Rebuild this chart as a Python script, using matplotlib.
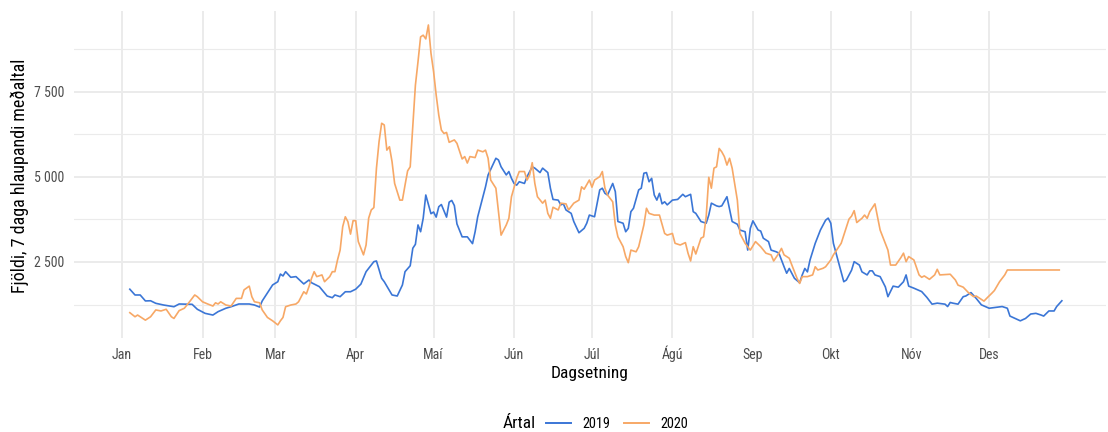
import matplotlib
matplotlib.use("Agg")
import matplotlib.pyplot as plt
from matplotlib import font_manager
from matplotlib.lines import Line2D

# leturgerð: helst mjó (condensed) eins og í upprunalegu myndinni
installed = {f.name for f in font_manager.fontManager.ttflist}
family = next(f for f in ["Roboto Condensed", "Liberation Sans Narrow", "Roboto", "DejaVu Sans"] if f in installed)
plt.rcParams["font.family"] = [family, "DejaVu Sans"]

# dagur ársins og 7 daga hlaupandi meðaltal
days_2019 = [4, 6, 8, 10, 12, 14, 17, 21, 23, 28, 30, 33, 36, 38, 41, 43, 46, 50, 52, 54,
             55, 59, 61, 62, 63, 64, 66, 68, 71, 73, 74, 77, 80, 82, 83, 85, 87, 89, 91, 93,
             95, 98, 99, 101, 102, 105, 107, 109, 110, 112, 113, 114, 115, 116, 117, 118, 120, 121, 122, 123,
             124, 126, 127, 128, 129, 130, 132, 134, 136, 137, 138, 140, 141, 142, 145, 146, 147, 149, 150, 151,
             152, 153, 154, 156, 157, 159, 160, 162, 163, 165, 166, 167, 169, 170, 171, 172, 174, 175, 177, 179,
             180, 181, 183, 184, 185, 186, 187, 188, 190, 191, 192, 194, 195, 196, 197, 198, 200, 201, 202, 203,
             204, 205, 206, 207, 208, 209, 210, 211, 213, 215, 217, 218, 220, 221, 222, 224, 226, 227, 228, 230,
             231, 232, 234, 236, 238, 239, 241, 242, 243, 244, 246, 247, 248, 250, 251, 253, 254, 256, 257, 258,
             260, 262, 263, 264, 265, 266, 268, 270, 272, 273, 274, 275, 277, 279, 280, 282, 283, 285, 286, 288,
             289, 290, 291, 293, 295, 296, 298, 300, 302, 303, 304, 306, 309, 311, 313, 315, 318, 319, 320, 321,
             323, 325, 326, 328, 330, 332, 335, 338, 340, 342, 343, 345, 347, 349, 351, 353, 355, 356, 358, 360,
             361, 363]
fjoldi_2019 = [1700, 1530, 1530, 1355, 1360, 1285, 1235, 1185, 1265, 1255, 1110, 990, 940, 1040, 1140, 1185, 1265, 1265, 1235, 1175,
               1355, 1825, 1920, 2145, 2090, 2215, 2050, 2070, 1855, 1970, 1890, 1775, 1500, 1450, 1530, 1480, 1625, 1625, 1700, 1850,
               2215, 2510, 2530, 2020, 1920, 1530, 1500, 1825, 2215, 2390, 2905, 3020, 3590, 3390, 3785, 4470, 3920, 3970, 3820, 4125,
               4190, 3820, 4260, 4310, 4160, 3620, 3240, 3240, 3040, 3390, 3830, 4420, 4710, 5060, 5550, 5500, 5300, 5060, 5160, 4960,
               4810, 4760, 4860, 4810, 5010, 5300, 5260, 5130, 5260, 5130, 4670, 4340, 4320, 4180, 4210, 4030, 3930, 3690, 3360, 3490,
               3640, 3880, 3830, 4230, 4620, 4670, 4520, 4470, 4810, 4570, 3690, 3640, 3390, 3490, 3980, 4080, 4620, 4670, 5110, 5130,
               4860, 4960, 4470, 4320, 4520, 4210, 4270, 4180, 4320, 4340, 4490, 4420, 4490, 3980, 3930, 3690, 3640, 3880, 4230, 4150,
               4130, 4150, 4420, 3690, 3610, 3440, 3390, 2850, 3490, 3710, 3440, 3410, 3200, 3100, 2850, 2800, 2760, 2360, 2170, 2310,
               2020, 1890, 2120, 2310, 2210, 2560, 3050, 3440, 3730, 3790, 3640, 3050, 2490, 1920, 1970, 2260, 2510, 2410, 2210, 2120,
               2240, 2240, 2120, 2070, 1770, 1480, 1790, 1760, 1920, 2120, 1790, 1730, 1630, 1460, 1260, 1290, 1260, 1190, 1310, 1290,
               1260, 1480, 1500, 1600, 1430, 1240, 1140, 1170, 1190, 1140, 910, 840, 770, 840, 970, 990, 940, 910, 1060, 1060,
               1190, 1360]

days_2020 = [4, 6, 7, 10, 12, 14, 16, 18, 20, 21, 23, 25, 27, 29, 30, 32, 34, 36, 37, 38,
             39, 41, 43, 45, 47, 48, 50, 51, 52, 54, 55, 57, 59, 61, 62, 63, 64, 66, 68, 69,
             71, 72, 73, 74, 75, 76, 78, 79, 81, 82, 83, 84, 85, 86, 87, 88, 89, 90, 91, 92,
             94, 95, 96, 97, 98, 99, 100, 101, 102, 103, 104, 105, 106, 107, 108, 109, 110, 111, 112, 113,
             114, 115, 116, 117, 118, 119, 120, 121, 122, 123, 124, 125, 126, 127, 129, 130, 132, 133, 134, 135,
             137, 138, 140, 141, 142, 143, 145, 147, 149, 150, 151, 153, 154, 156, 157, 158, 159, 160, 161, 163,
             164, 165, 166, 167, 169, 170, 172, 173, 174, 175, 177, 178, 179, 181, 182, 183, 185, 186, 187, 188, 190,
             191, 192, 194, 195, 196, 197, 199, 200, 202, 203, 204, 206, 208, 210, 211, 213, 214, 216, 218, 219,
             220, 221, 222, 224, 225, 226, 227, 228, 229, 230, 231, 232, 233, 234, 235, 236, 238, 239, 241, 243,
             245, 247, 249, 251, 252, 254, 255, 256, 258, 259, 261, 262, 263, 265, 267, 268, 269, 271, 272, 274,
             275, 278, 279, 281, 282, 283, 284, 286, 287, 288, 289, 291, 293, 295, 296, 297, 299, 301, 302, 303,
             304, 306, 308, 309, 310, 312, 314, 315, 316, 320, 322, 323, 325, 327, 329, 330, 333, 334, 336, 337,
             339, 341, 342, 362]
fjoldi_2020 = [1010, 890, 940, 790, 890, 1090, 1060, 1110, 890, 840, 1070, 1140, 1330, 1530, 1480, 1330, 1265, 1205, 1300, 1265,
               1330, 1235, 1205, 1430, 1430, 1680, 1790, 1480, 1330, 1300, 1090, 870, 770, 650, 770, 870, 1185, 1235, 1265, 1330,
               1625, 1560, 1775, 2020, 2215, 2070, 2120, 1920, 2070, 2215, 2215, 2560, 2850, 3540, 3830, 3685, 3320, 3715, 3715, 3100,
               2710, 3000, 3790, 4030, 4100, 5260, 6040, 6580, 6530, 5790, 5890, 5450, 4810, 4570, 4320, 4320, 4760, 5180, 5300, 6510,
               7700, 8390, 9120, 9170, 9060, 9470, 8640, 8100, 7410, 6820, 6380, 6280, 6310, 6020, 6090, 5990, 5530, 5600, 5410, 5600,
               5570, 5790, 5740, 5790, 5550, 4910, 4670, 3290, 3590, 3785, 4420, 4960, 5160, 5160, 4910, 5060, 5420, 4810, 4420, 4230,
               4320, 3930, 3785, 4110, 4030, 4230, 4210, 4030, 4130, 4230, 4320, 4710, 4640, 4910, 4700, 4910, 5010, 5160, 4670, 4470,
               4270, 3590, 3240, 2950, 2660, 2480, 2850, 2800, 2950, 3590, 4080, 3930, 3880, 3880, 3340, 3290, 3340, 3050, 3000, 3070,
               2760, 2530, 2950, 2735, 3200, 3240, 3830, 4990, 4670, 5260, 5300, 5840, 5740, 5600, 5350, 5550, 5260, 4320, 3340, 3050,
               2850, 3100, 2950, 2760, 2710, 2530, 2760, 2900, 2710, 2610, 2410, 2020, 1870, 2070, 2070, 2120, 2360, 2265, 2315, 2360,
               2560, 2710, 3050, 3290, 3760, 3850, 4010, 3660, 3785, 3880, 3785, 3980, 4210, 3440, 3050, 2850, 2410, 2410, 2630, 2760,
               2510, 2660, 2560, 2120, 2050, 2090, 1990, 2120, 2285, 2120, 2140, 1970, 1820, 1760, 1600, 1480, 1500, 1350, 1430, 1580,
               1660, 1920, 2120, 2265, 2265]

years = ["2019", "2020"]
colors = ["#3b76d6", "#f7a866"]

month_starts = [1, 32, 60, 91, 121, 152, 182, 213, 244, 274, 305, 335]
month_labels = ["Jan", "Feb", "Mar", "Apr", "Maí", "Jún", "Júl", "Ágú", "Sep", "Okt", "Nóv", "Des"]
y_major = [2500, 5000, 7500]
y_major_labels = ["2 500", "5 000", "7 500"]
y_minor = [1250, 3750, 6250, 8750]

fig = plt.figure(figsize=(11.08, 4.32), dpi=100)
ax = fig.add_axes([74 / 1108, 1 - 338 / 432, (1106 - 74) / 1108, (338 - 10.7) / 432])

ax.plot(days_2019, fjoldi_2019, color=colors[0], lw=1.2, label=years[0])
ax.plot(days_2020, fjoldi_2020, color=colors[1], lw=1.2, label=years[1])

ax.set_xlim(-17.5, 380)
ax.set_ylim(265, 9890)

ax.set_xticks(month_starts)
ax.set_xticklabels(month_labels)
ax.set_yticks(y_major)
ax.set_yticklabels(y_major_labels)
ax.set_yticks(y_minor, minor=True)

ax.grid(True, which="major", color="#ebebeb", lw=1.4)
ax.grid(True, which="minor", axis="y", color="#ebebeb", lw=0.8)
ax.set_axisbelow(True)
for s in ax.spines.values():
    s.set_visible(False)
ax.tick_params(which="both", length=0, labelsize=10, labelcolor="#4d4d4d")
ax.tick_params(axis="y", pad=7)
# mánaðaheiti á sömu grunnlínu (Á má ekki ýta "Ágú" niður)
ax.tick_params(axis="x", pad=14.8)
for lab in ax.get_xticklabels():
    lab.set_verticalalignment("baseline")

ax.set_xlabel("Dagsetning", fontsize=12.5, color="black", labelpad=3)
fig.text(19.5 / 1108, 1 - 175.5 / 432, "Fjöldi, 7 daga hlaupandi meðaltal", rotation=90,
         ha="center", va="center", fontsize=13)

# skýringar neðst
fig.text(503 / 1108, 1 - 424 / 432, "Ártal", fontsize=12.5, ha="left", va="center")
handles = [Line2D([], [], color=c, lw=1.4) for c in colors]
fig.legend(handles, years, loc="center", bbox_to_anchor=(617 / 1108, 1 - 424 / 432), ncol=2,
           frameon=False, fontsize=10.3, handlelength=1.8, handletextpad=0.8, columnspacing=0.9)

fig.savefig("out.png", dpi=100)
